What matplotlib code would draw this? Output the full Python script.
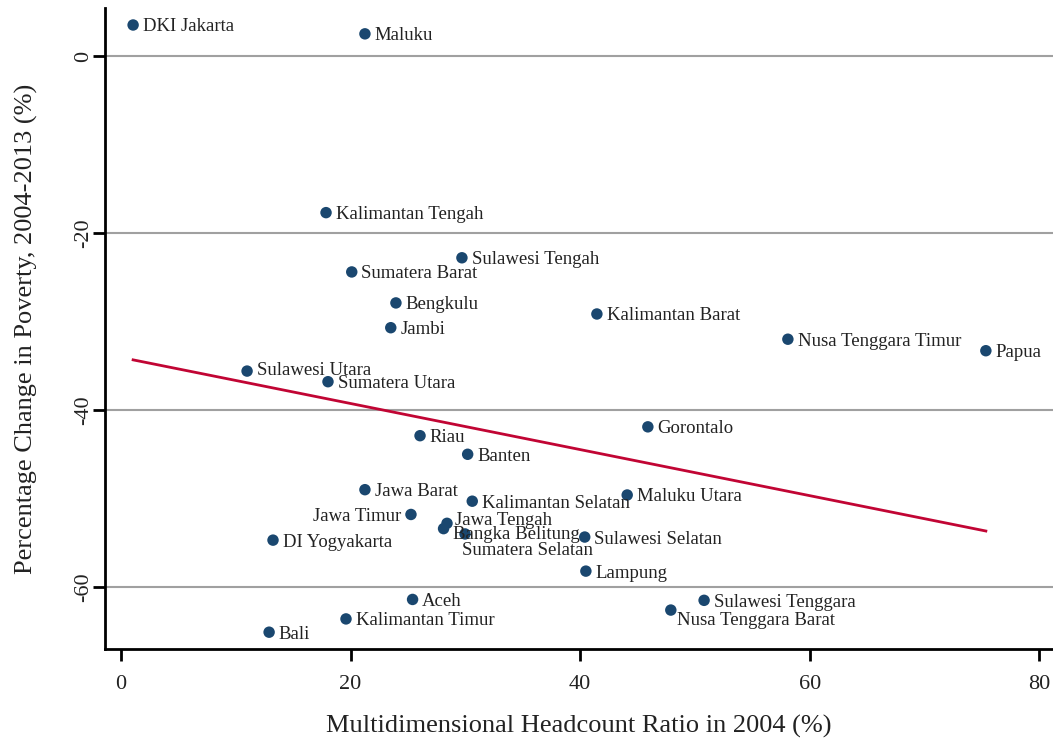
import numpy as np
import matplotlib
matplotlib.use("Agg")
import matplotlib.pyplot as plt

provinces = ["DKI Jakarta", "Maluku", "Kalimantan Tengah", "Sulawesi Tengah", "Sumatera Barat",
             "Bengkulu", "Kalimantan Barat", "Jambi", "Nusa Tenggara Timur", "Papua",
             "Sulawesi Utara", "Sumatera Utara", "Gorontalo", "Riau", "Banten",
             "Jawa Barat", "Kalimantan Selatan", "Maluku Utara", "Jawa Timur", "Jawa Tengah",
             "Bangka Belitung", "Sumatera Selatan", "DI Yogyakarta", "Sulawesi Selatan", "Lampung",
             "Aceh", "Sulawesi Tenggara", "Nusa Tenggara Barat", "Kalimantan Timur", "Bali"]
headcount_2004 = [1.05, 21.25, 17.86, 29.7, 20.1,
                  23.95, 41.46, 23.5, 58.1, 75.35,
                  10.98, 18.03, 45.9, 26.05, 30.2,
                  21.25, 30.6, 44.1, 25.26, 28.4,
                  28.1, 29.97, 13.24, 40.4, 40.5,
                  25.4, 50.8, 47.9, 19.6, 12.9]
poverty_change = [3.5, 2.5, -17.7, -22.8, -24.4,
                  -27.9, -29.15, -30.7, -32.0, -33.3,
                  -35.6, -36.8, -41.9, -42.9, -45.0,
                  -49.0, -50.3, -49.6, -51.8, -52.8,
                  -53.4, -54.0, -54.7, -54.35, -58.2,
                  -61.4, -61.5, -62.6, -63.6, -65.1]

x_ticks = [0, 20, 40, 60, 80]
y_ticks = [0, -20, -40, -60]

plt.rcParams['font.family'] = ['Liberation Serif', 'DejaVu Serif']

fig = plt.figure(figsize=(10.53, 7.43), dpi=100)
ax = fig.add_axes([0.0997, 0.1265, 0.9003, 0.8625])

x = np.array(headcount_2004)
y = np.array(poverty_change)

for yt in y_ticks:
    ax.axhline(yt, color="#a0a0a0", lw=1.5, zorder=1)

ax.scatter(x, y, s=68, color="#1a476f", zorder=3, edgecolors="none")

slope, intercept = np.polyfit(x, y, 1)
xf = np.array([x.min(), x.max()])
ax.plot(xf, slope * xf + intercept, color="#c10534", lw=2, zorder=2)

# label offsets in points (dx, dy) and alignment
special = {
    "Jawa Timur": (-7, 0, "right", "center_baseline"),
    "Jawa Tengah": (6, 3.5, "left", "center_baseline"),
    "Bangka Belitung": (7, -3, "left", "center_baseline"),
    "Sumatera Selatan": (-2, -6, "left", "top"),
    "Nusa Tenggara Barat": (4.5, -6, "left", "center_baseline"),
    "Sulawesi Utara": (7, 2, "left", "center_baseline"),
}
for name, xi, yi in zip(provinces, x, y):
    dx, dy, ha, va = special.get(name, (7, 0, "left", "center_baseline"))
    ax.annotate(name, (xi, yi), xytext=(dx, dy), textcoords="offset points",
                ha=ha, va=va, fontsize=13.5, color="#222222", zorder=4)

ax.set_xlim(-1.4, 81.2)
ax.set_ylim(-67.0, 5.4)
ax.set_xticks(x_ticks)
ax.set_yticks(y_ticks)
ax.set_yticklabels([str(v) for v in y_ticks], rotation=90, va="center")
ax.tick_params(axis="both", length=8.5, width=2, labelsize=16, color="black", labelcolor="#222222")
ax.tick_params(axis="x", pad=10)
ax.tick_params(axis="y", pad=0)

for s in ["top", "right"]:
    ax.spines[s].set_visible(False)
for s in ["left", "bottom"]:
    ax.spines[s].set_linewidth(2)

ax.set_xlabel("Multidimensional Headcount Ratio in 2004 (%)", fontsize=19, color="#222222", labelpad=15)
ax.set_ylabel("Percentage Change in Poverty, 2004-2013 (%)", fontsize=19, color="#222222", labelpad=26)

fig.savefig("out.png", dpi=100)
